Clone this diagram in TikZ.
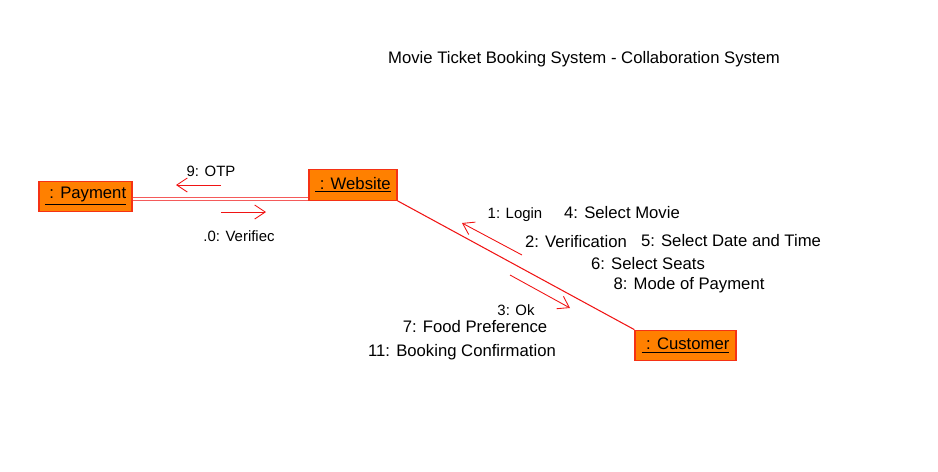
\documentclass[tikz,border=0pt]{standalone}
\usepackage{fontspec}
\setmainfont{Liberation Sans}
\usetikzlibrary{positioning,arrows.meta}
\definecolor{objfill}{RGB}{255,128,0}
\definecolor{objline}{RGB}{245,50,20}
\definecolor{linkred}{RGB}{240,20,20}

\begin{document}
\begin{tikzpicture}[x=0.02cm, y=-0.02cm, font=\fontsize{9.5}{11}\selectfont,
  object/.style={draw=objline, fill=objfill, line width=0.7pt, inner sep=0pt, minimum height=0.61cm},
  link/.style={draw=linkred, line width=0.6pt},
  msg/.style={draw=linkred, line width=0.5pt, -{Straight Barb[length=6pt, width=8pt]}},
  msglabel/.style={font=\fontsize{8.5}{10}\selectfont, inner sep=0pt}]
  \useasboundingbox (0,0) rectangle (938,471);
  \node (title) at (584,59) {Movie Ticket Booking System - Collaboration System};

  \node[object, minimum width=1.86cm] (Payment) at (85.5,196.5) {\underline{\ : Payment}\ };
  \node[object, minimum width=1.76cm] (Website) at (353,185) {\underline{\ : Website}\ };
  \node[object, minimum width=2.02cm] (Customer) at (685.5,345.5) {\underline{\ : Customer}\ };

  \draw[link, draw=linkred!70, double=white, double distance=1.4pt] (Payment.east) ++(0,2.5) coordinate (pw) -- (pw -| Website.west);
  \draw[link] (Website.south east) -- (Customer.north west);

  \draw[msg] (221,185) -- (176,185);
  \node[msglabel] (otp) at (211,171) {9: OTP};
  \draw[msg] (221,212) -- (266,212);
  \node[msglabel] (verified) at (239,236) {.0: Verifiec};

  \draw[msg] (522,255) -- (462,223);
  \node[msglabel] (login) at (515,215) {1: Login};
  \draw[msg] (510,275) -- (570,308);
  \node[msglabel] (ok) at (516,310) {3: Ok};

  \node (m4) at (622,213) {4: Select Movie};
  \node (m2) at (576,242) {2: Verification};
  \node (m5) at (731,241) {5: Select Date and Time};
  \node (m6) at (648,264) {6: Select Seats};
  \node (m8) at (689,285) {8: Mode of Payment};
  \node (m7) at (475,327) {7: Food Preference};
  \node (m11) at (462,352) {11: Booking Confirmation};
\end{tikzpicture}
\end{document}
